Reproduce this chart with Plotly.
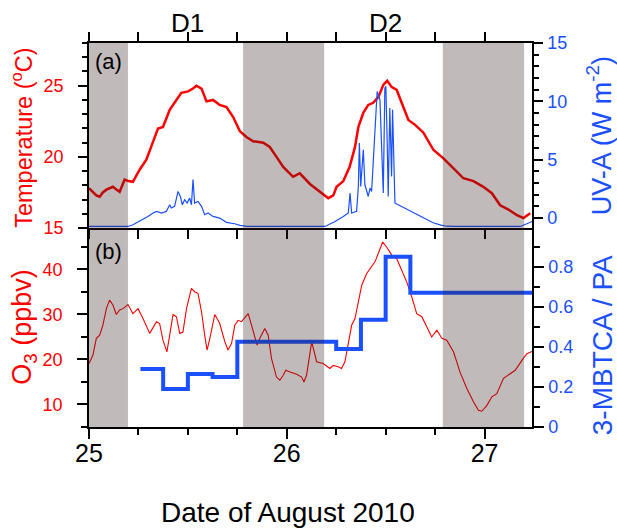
import plotly.graph_objects as go

# ---------------- data ----------------
temp_t = [25.000, 25.020, 25.037, 25.054, 25.070, 25.088, 25.105, 25.121, 25.140, 25.155,
          25.180, 25.200, 25.222, 25.256, 25.290, 25.324, 25.349, 25.374, 25.408, 25.442,
          25.467, 25.501, 25.526, 25.543, 25.569, 25.594, 25.627, 25.661, 25.695, 25.729,
          25.763, 25.796, 25.830, 25.881, 25.914, 25.948, 25.982, 26.032, 26.066, 26.117,
          26.168, 26.210, 26.235, 26.252, 26.286, 26.318, 26.345, 26.362, 26.387, 26.412,
          26.437, 26.463, 26.488, 26.508, 26.531, 26.556, 26.581, 26.615, 26.649, 26.691,
          26.741, 26.792, 26.843, 26.893, 26.944, 26.994, 27.037, 27.079, 27.121, 27.164,
          27.197, 27.231]
temp_v = [17.8, 17.5, 17.3, 17.2, 17.5, 17.7, 17.8, 17.9, 17.7, 17.55,
          18.4, 18.3, 18.25, 19.1, 19.8, 21.0, 22.0, 22.1, 23.3, 24.0,
          24.5, 24.6, 24.8, 25.0, 24.8, 23.9, 24.0, 23.65, 23.5, 22.8,
          21.8, 21.4, 21.1, 21.0, 20.7, 20.0, 19.3, 18.6, 18.85, 18.1,
          17.55, 17.1, 17.3, 17.9, 18.3, 19.3, 20.7, 22.1, 23.1, 23.65,
          23.8, 24.2, 25.05, 25.35, 24.9, 24.7, 23.8, 22.6, 22.25, 21.7,
          20.5, 19.9, 19.2, 18.5, 18.3, 17.9, 17.45, 16.6, 16.3, 15.9,
          15.7, 16.05]

uv_t = [25.000, 25.197, 25.220, 25.256, 25.298, 25.324, 25.341, 25.366, 25.391, 25.408,
        25.416, 25.433, 25.450, 25.462, 25.472, 25.484, 25.496, 25.509, 25.518, 25.526,
        25.534, 25.551, 25.569, 25.585, 25.602, 25.627, 25.661, 25.695, 25.737, 25.763,
        25.800, 26.193, 26.244, 26.286, 26.311, 26.320, 26.328, 26.353, 26.362, 26.367,
        26.374, 26.387, 26.395, 26.412, 26.421, 26.429, 26.446, 26.457, 26.471, 26.488,
        26.496, 26.501, 26.508, 26.513, 26.521, 26.530, 26.535, 26.547, 26.556, 26.590,
        26.623, 26.660, 26.700, 26.740, 26.780, 26.810, 26.850, 27.180, 27.214, 27.240]
uv_v = [-0.72, -0.72, -0.6, -0.29, 0.14, 0.43, 0.57, 0.43, 0.57, 1.14,
        0.86, 1.0, 2.28, 1.85, 1.14, 1.57, 1.29, 1.71, 1.14, 3.3,
        1.29, 1.42, 1.0, 0.28, 0.43, 0.14, 0.0, -0.37, -0.49, -0.63,
        -0.72, -0.72, -0.29, 0.14, 0.43, 2.14, 0.43, 0.57, 2.71, 6.43,
        2.71, 5.85, 2.85, 1.85, 2.57, 2.28, 7.85, 10.85, 10.14, 2.14,
        11.14, 11.3, 6.43, 1.85, 9.43, 3.57, 9.28, 1.29, 1.2, 0.9,
        0.6, 0.3, -0.1, -0.4, -0.6, -0.7, -0.72, -0.72, -0.49, -0.29]

o3_t = [25.000, 25.020, 25.037, 25.054, 25.070, 25.088, 25.104, 25.121, 25.138, 25.155,
        25.172, 25.197, 25.222, 25.248, 25.273, 25.307, 25.341, 25.357, 25.374, 25.394,
        25.408, 25.425, 25.442, 25.459, 25.475, 25.493, 25.518, 25.535, 25.551, 25.569,
        25.585, 25.597, 25.611, 25.636, 25.661, 25.687, 25.703, 25.721, 25.737, 25.754,
        25.771, 25.788, 25.805, 25.822, 25.838, 25.850, 25.864, 25.889, 25.906, 25.923,
        25.948, 25.965, 25.982, 25.995, 26.016, 26.050, 26.075, 26.087, 26.100, 26.126,
        26.151, 26.184, 26.218, 26.235, 26.260, 26.277, 26.294, 26.311, 26.328, 26.345,
        26.362, 26.379, 26.404, 26.429, 26.446, 26.463, 26.485, 26.505, 26.531, 26.556,
        26.581, 26.607, 26.632, 26.657, 26.683, 26.708, 26.733, 26.759, 26.784, 26.809,
        26.843, 26.876, 26.910, 26.944, 26.969, 26.986, 27.012, 27.037, 27.062, 27.096,
        27.121, 27.155, 27.189, 27.214, 27.240]
o3_v = [19.1, 21.0, 24.7, 25.4, 27.6, 31.3, 33.2, 32.1, 30.0, 31.0,
        31.3, 32.2, 30.2, 31.3, 29.1, 25.8, 28.4, 28.0, 24.3, 21.7,
        25.4, 30.0, 29.5, 25.8, 26.1, 31.3, 35.8, 35.0, 34.7, 30.6,
        25.4, 22.1, 24.7, 30.0, 28.0, 23.9, 22.1, 23.6, 27.6, 28.7,
        28.4, 29.2, 30.2, 27.6, 25.0, 23.2, 24.7, 26.9, 25.4, 20.2,
        16.1, 15.4, 16.5, 17.6, 17.2, 16.7, 16.1, 15.0, 16.5, 23.9,
        19.5, 19.1, 18.0, 18.7, 18.4, 18.0, 19.5, 23.2, 27.6, 29.1,
        32.8, 36.5, 39.1, 40.6, 41.7, 43.6, 46.1, 45.0, 43.2, 42.4,
        39.8, 37.2, 33.9, 30.2, 29.5, 27.2, 25.0, 26.5, 24.7, 24.3,
        21.7, 17.2, 13.6, 10.6, 8.7, 8.5, 9.8, 11.7, 12.4, 15.8,
        16.5, 17.6, 19.8, 21.3, 21.8]

ratio_t = [25.26, 25.375, 25.5, 25.625, 25.75, 26.25, 26.375, 26.5, 26.625, 27.24]
ratio_v = [0.29, 0.19, 0.265, 0.25, 0.425, 0.39, 0.535, 0.85, 0.67, 0.67]

night_start = [25.0, 25.779, 26.789]
night_end = [25.197, 26.189, 27.20]

day_labels = ["D1", "D2"]
day_pos = [25.5, 26.5]

x_ticks = [25, 26, 27]

# ---------------- style ----------------
RED = "#ff0000"
BLUE = "#1a50ff"
FONT = "Arial, Liberation Sans, sans-serif"
XR = [25, 27.24]
SPLIT = 0.518

fig = go.Figure()
fig.add_trace(go.Scatter(x=ratio_t, y=ratio_v, mode="lines", line=dict(color=BLUE, width=4, shape="hv"),
                         xaxis="x", yaxis="y2", showlegend=False))
fig.add_trace(go.Scatter(x=o3_t, y=o3_v, mode="lines", line=dict(color=RED, width=1.1),
                         xaxis="x", yaxis="y3", showlegend=False))
fig.add_trace(go.Scatter(x=temp_t, y=temp_v, mode="lines", line=dict(color=RED, width=2.5),
                         xaxis="x2", yaxis="y4", showlegend=False))
fig.add_trace(go.Scatter(x=uv_t, y=uv_v, mode="lines", line=dict(color=BLUE, width=1.2),
                         xaxis="x2", yaxis="y5", showlegend=False))

# night shading drawn on top with a dark translucent tint (imitates multiply blending)
shapes = []
for s, e in zip(night_start, night_end):
    shapes.append(dict(type="rect", xref="x", yref="paper", x0=s, x1=e, y0=0, y1=1,
                       fillcolor="rgb(48,28,28)", opacity=0.3, line=dict(width=0), layer="above"))

annotations = []
for lab, p in zip(day_labels, day_pos):
    annotations.append(dict(text=lab, x=p, xref="x", y=1.052, yref="paper", showarrow=False,
                            font=dict(size=26, color="black", family=FONT), yanchor="middle"))
annotations.append(dict(text="(a)", x=0.008, xref="paper", y=0.951, yref="paper", showarrow=False,
                        xanchor="left", yanchor="middle", font=dict(size=22, color="black", family=FONT)))
annotations.append(dict(text="(b)", x=0.008, xref="paper", y=0.4565, yref="paper", showarrow=False,
                        xanchor="left", yanchor="middle", font=dict(size=22, color="black", family=FONT)))
annotations.append(dict(text="Date of August 2010", x=0.449, xref="paper", y=-0.223, yref="paper",
                        showarrow=False, xanchor="center", yanchor="middle",
                        font=dict(size=28, color="black", family=FONT)))

# axis titles (rotated text)
titles = [
    ("Temperature (<sup>o</sup>C)", -0.150, 0.752, 23.5, RED),
    ("O<sub>3</sub> (ppbv)", -0.146, 0.262, 27, RED),
    ("UV-A (W m<sup>-2</sup>)", 1.152, 0.758, 27, BLUE),
    ("3-MBTCA / PA", 1.159, 0.214, 28, BLUE),
]
for txt, ax_, ay_, sz, col in titles:
    annotations.append(dict(text=txt, x=ax_, y=ay_, xref="paper", yref="paper", showarrow=False,
                            textangle=-90, xanchor="center", yanchor="middle",
                            font=dict(size=sz, color=col, family=FONT)))

base = dict(showgrid=False, zeroline=False, tickcolor="black", tickwidth=1.5, linecolor="black", linewidth=1.5)
minor_style = dict(tickcolor="black", tickwidth=1.5, ticks="outside")

fig.update_layout(
    width=617, height=529,
    margin=dict(l=89.4, r=85.3, t=43.3, b=101.7),
    plot_bgcolor="rgba(0,0,0,0)", paper_bgcolor="white",
    font=dict(family=FONT),
    shapes=shapes, annotations=annotations,
    xaxis=dict(**base, domain=[0, 1], anchor="y", range=XR, tickmode="array", tickvals=x_ticks,
               showline=True, ticks="outside", ticklen=10,
               minor=dict(**minor_style, tickmode="linear", dtick=0.25, tick0=25, ticklen=6),
               tickfont=dict(size=25, color="black"), ticklabelstandoff=-7),
    xaxis3=dict(**base, overlaying="x", anchor="y", side="top", range=XR, tickmode="linear",
                dtick=0.25, tick0=25, ticks="outside", ticklen=8, showline=False, showticklabels=False),
    xaxis2=dict(**base, domain=[0, 1], anchor="y4", range=XR, tickmode="linear", dtick=0.25, tick0=25,
                ticks="outside", ticklen=9, showline=True, mirror="ticks", showticklabels=False),
    yaxis=dict(**base, domain=[0, SPLIT], anchor="x", range=[0, 0.993], visible=False),
    yaxis3=dict(**base, domain=[0, SPLIT], anchor="x", range=[5, 49.2], tickmode="array",
                tickvals=[10, 20, 30, 40], showline=True, ticks="outside", ticklen=10,
                minor=dict(**minor_style, tickmode="linear", dtick=5, tick0=0, ticklen=6),
                tickfont=dict(size=18, color=RED), ticklabelstandoff=11),
    yaxis2=dict(**base, overlaying="y3", side="right", anchor="x", range=[0, 0.993], tickmode="array",
                tickvals=[0, 0.2, 0.4, 0.6, 0.8], ticktext=["0", "0.2", "0.4", "0.6", "0.8"],
                showline=True, ticks="outside", ticklen=10,
                minor=dict(**minor_style, tickmode="linear", dtick=0.1, tick0=0, ticklen=6),
                tickfont=dict(size=18, color=BLUE), ticklabelstandoff=1),
    yaxis4=dict(**base, domain=[SPLIT, 1], anchor="x2", range=[15, 28], tickmode="array",
                tickvals=[15, 20, 25], showline=True, ticks="outside", ticklen=9,
                minor=dict(**minor_style, tickmode="linear", dtick=1, tick0=15, ticklen=5),
                tickfont=dict(size=18, color=RED), ticklabelstandoff=11),
    yaxis5=dict(**base, overlaying="y4", side="right", anchor="x2", range=[-0.86, 15], tickmode="array",
                tickvals=[0, 5, 10, 15], showline=True, ticks="outside", ticklen=9,
                minor=dict(**minor_style, tickmode="linear", dtick=1, tick0=0, ticklen=5),
                tickfont=dict(size=18, color=BLUE), ticklabelstandoff=1),
)

fig.write_html("out.html")
